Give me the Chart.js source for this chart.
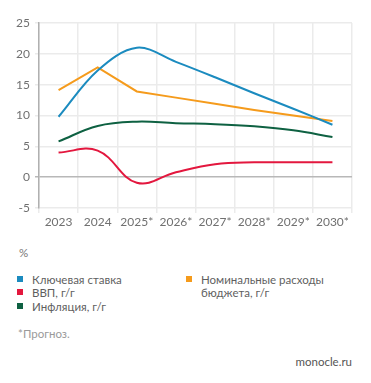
<!DOCTYPE html>
<html>
<head>
<meta charset="utf-8">
<script src="https://cdn.jsdelivr.net/npm/chart.js@4"></script>
<style>
    body { margin: 0; background: #fff; font-family: Lato, "Open Sans", sans-serif; }
    #wrap { position: relative; width: 371px; height: 383px; }
    #chart { position: absolute; left: 0; top: 0; }
    .txt { position: absolute; font-size: 11.5px; color: #5f5f5f; line-height: 13.3px; white-space: nowrap; }
    .sq { position: absolute; width: 6px; height: 6px; }
</style>
</head>
<body>
<div id="wrap">
    <canvas id="chart" width="371" height="240"></canvas>
    <div id="legend"></div>
</div>
<script>
const years = ["2023", "2024", "2025*", "2026*", "2027*", "2028*", "2029*", "2030*"];

const keyRate = [9.8, 17.3, 21.0, 18.7, 16.2, 13.6, 11.1, 8.5];
const budget = [14.1, 17.8, 13.9, 12.9, 11.9, 10.9, 10.0, 9.1];
const gdp = [4.0, 4.3, -0.9, 0.8, 2.1, 2.4, 2.4, 2.4];
const inflation = [5.8, 8.3, 9.0, 8.75, 8.6, 8.25, 7.6, 6.5];

const yTicks = [-5, 0, 5, 10, 15, 20, 25];

const BLUE = "#1b8bbf";
const ORANGE = "#f59b1c";
const RED = "#e3173e";
const GREEN = "#0e6142";

const ctx = document.getElementById("chart").getContext("2d");

new Chart(ctx, {
    type: "line",
    data: {
        labels: years,
        datasets: [
            { label: "Ключевая ставка", data: keyRate, borderColor: BLUE, tension: 0.35 },
            { label: "Номинальные расходы бюджета, г/г", data: budget, borderColor: ORANGE, tension: 0 },
            { label: "ВВП, г/г", data: gdp, borderColor: RED, tension: 0.4 },
            { label: "Инфляция, г/г", data: inflation, borderColor: GREEN, tension: 0.4 }
        ]
    },
    options: {
        responsive: false,
        devicePixelRatio: 1,
        animation: false,
        elements: {
            point: { radius: 0, hoverRadius: 0 },
            line: { borderWidth: 2, fill: false }
        },
        layout: { padding: { top: 23, right: 19, bottom: 0, left: 0 } },
        plugins: {
            legend: { display: false },
            tooltip: { enabled: false }
        },
        scales: {
            x: {
                offset: true,
                grid: { offset: true, color: "#ebebeb", lineWidth: 1.5, tickLength: 5 },
                border: { display: false },
                ticks: {
                    color: "#707070", font: { family: "Lato", size: 12 },
                    padding: 2, maxRotation: 0, autoSkip: false
                },
                afterFit: (scale) => { scale.height = 32; }
            },
            y: {
                min: -5,
                max: 25,
                afterBuildTicks: (scale) => { scale.ticks = yTicks.map(v => ({ value: v })); },
                grid: {
                    color: (c) => c.tick && c.tick.value === 0 ? "#b8b8b8" : "#ebebeb",
                    lineWidth: 1.5,
                    tickLength: 4
                },
                border: { display: true, color: "#b0b0b0", width: 1.5 },
                ticks: { color: "#707070", font: { family: "Lato", size: 12 }, padding: 5 },
                afterFit: (scale) => { scale.width = 39; }
            }
        }
    }
});

// legend and notes below the chart
const legend = document.getElementById("legend");
function addText(text, left, top, extra) {
    const el = document.createElement("div");
    el.className = "txt";
    el.innerHTML = text;
    el.style.left = left + "px";
    el.style.top = top + "px";
    if (extra) Object.assign(el.style, extra);
    legend.appendChild(el);
}
function addSquare(color, left, top) {
    const el = document.createElement("div");
    el.className = "sq";
    el.style.background = color;
    el.style.left = left + "px";
    el.style.top = top + "px";
    legend.appendChild(el);
}

addText("%", 19, 246, { color: "#777" });

addSquare(BLUE, 17, 276);
addText("Ключевая ставка", 32, 273);
addSquare(RED, 17, 289);
addText("ВВП, г/г", 32, 286);
addSquare(GREEN, 17, 303);
addText("Инфляция, г/г", 32, 300);

addSquare(ORANGE, 186, 276);
addText("Номинальные расходы<br>бюджета, г/г", 201, 273);

addText("*Прогноз.", 18, 327, { color: "#9a9a9a" });
addText("monocle.ru", 0, 355, { left: "auto", right: "19px", color: "#555" });
</script>
</body>
</html>
